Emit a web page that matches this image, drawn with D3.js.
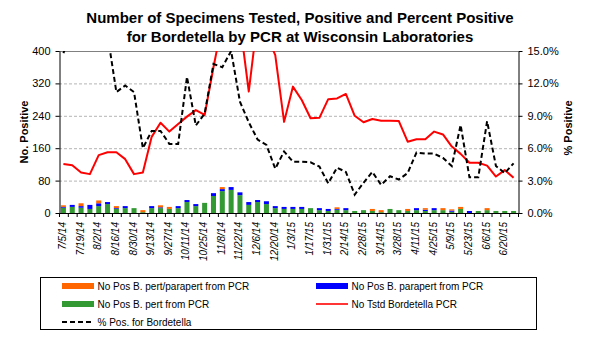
<!DOCTYPE html>
<html>
<head>
<meta charset="utf-8">
<script src="https://cdn.jsdelivr.net/npm/d3@7"></script>
<style>
  body { margin: 0; background: #fff; }
  svg { display: block; }
  text { font-family: "Liberation Sans", Arial, sans-serif; fill: #000; }
</style>
</head>
<body>
<svg id="chart" width="590" height="343"></svg>
<script>
// Weekly reporting periods (week ending)
const weeks = [
  "7/5/14","7/12/14","7/19/14","7/26/14","8/2/14","8/9/14","8/16/14","8/23/14","8/30/14",
  "9/6/14","9/13/14","9/20/14","9/27/14","10/4/14","10/11/14","10/18/14","10/25/14",
  "11/1/14","11/8/14","11/15/14","11/22/14","11/29/14","12/6/14","12/13/14","12/20/14",
  "12/27/14","1/3/15","1/10/15","1/17/15","1/24/15","1/31/15","2/7/15","2/14/15",
  "2/21/15","2/28/15","3/7/15","3/14/15","3/21/15","3/28/15","4/4/15","4/11/15",
  "4/18/15","4/25/15","5/2/15","5/9/15","5/16/15","5/23/15","5/30/15","6/6/15",
  "6/13/15","6/20/15","6/27/15"
];

// Number positive, B. pertussis
const posPert = [13,15,13,10,17,22,10,12,12,2,12,12,10,12,27,17,25,42,54,57,44,20,27,22,12,10,
                 10,10,12,7,5,8,7,5,7,5,2,10,7,5,7,5,7,7,3,10,0,5,7,5,5,5];
// Number positive, B. parapertussis
const posParapert = [2,5,4,10,7,5,2,5,0,0,5,2,0,5,5,5,0,7,5,7,7,7,5,7,5,5,
                     5,5,0,5,5,2,5,0,0,0,0,0,0,0,5,3,5,0,3,0,5,0,0,0,0,0];
// Number positive, B. pertussis/parapertussis
const posBoth = [4,0,7,0,7,0,5,0,0,5,0,5,5,0,0,0,0,0,5,0,0,0,0,0,0,0,
                 0,0,0,0,0,4,0,0,0,5,5,0,0,5,0,4,0,5,3,5,0,0,5,0,0,0];
// Number of specimens tested
const tested = [121,118,100,96,143,150,150,133,96,100,188,223,201,220,238,254,242,360,470,430,
                470,300,480,440,390,225,312,279,234,235,281,283,294,240,224,232,228,228,227,176,
                182,182,201,194,164,146,124,124,117,90,106,87];
// Percent positive
const pctPos = [14.8,17.0,25.0,21.0,21.5,16.5,11.2,11.8,11.2,6.0,7.6,7.6,6.4,6.4,12.6,8.1,9.2,
                13.8,13.5,15.0,10.3,8.4,6.8,6.3,4.1,5.7,4.75,4.75,4.7,4.3,2.75,4.2,3.8,1.7,2.8,
                3.8,2.6,3.4,3.1,3.7,5.6,5.5,5.5,5.1,4.35,8.15,3.3,3.3,8.5,4.35,3.7,4.6];

const countTicks = [0, 80, 160, 240, 320, 400];
const pctTicks = [0, 3, 6, 9, 12, 15];

const titleLines = [
  "Number of Specimens Tested, Positive and Percent Positive",
  "for Bordetella by PCR at Wisconsin Laboratories"
];

const colors = { both: "#FF6600", parapert: "#0000FF", pert: "#339933", tested: "#FF0000", pct: "#000000" };

const plot = { left: 59, right: 518, top: 51, bottom: 213 };

const svg = d3.select("#chart");

const x = d3.scaleBand().domain(weeks).range([plot.left, plot.right]).padding(0);
const barW = x.bandwidth() * 0.57;
const cx = d => x(d) + x.bandwidth() / 2;
const yL = d3.scaleLinear().domain([0, 400]).range([plot.bottom, plot.top]);
const yR = d3.scaleLinear().domain([0, 15]).range([plot.bottom, plot.top]);

// Title
svg.append("g").selectAll("text").data(titleLines).join("text")
  .attr("x", 300).attr("y", (d, i) => 23 + i * 19)
  .attr("text-anchor", "middle")
  .style("font-size", "15px").style("font-weight", "bold")
  .text(d => d);

// Gridlines
svg.append("g").selectAll("line").data(countTicks.filter(t => t > 0)).join("line")
  .attr("x1", plot.left).attr("x2", plot.right)
  .attr("y1", d => yL(d) + 0.5).attr("y2", d => yL(d) + 0.5)
  .attr("stroke", d => d === 400 ? "#808080" : "#b4b4b4")
  .attr("stroke-dasharray", d => d === 400 ? null : "3,2");

// Stacked bars
const rows = weeks.map((w, i) => ({ week: w, pert: posPert[i], parapert: posParapert[i], both: posBoth[i] }));
const stack = d3.stack().keys(["pert", "parapert", "both"])(rows);
svg.append("g").selectAll("g").data(stack).join("g")
  .attr("fill", s => colors[s.key])
  .selectAll("rect").data(s => s).join("rect")
  .attr("x", d => cx(d.data.week) - barW / 2)
  .attr("width", barW)
  .attr("y", d => yL(d[1]))
  .attr("height", d => yL(d[0]) - yL(d[1]));

// Lines, clipped to the plot area
svg.append("clipPath").attr("id", "plotClip")
  .append("rect").attr("x", plot.left).attr("y", plot.top)
  .attr("width", plot.right - plot.left).attr("height", plot.bottom - plot.top + 2);

const linesG = svg.append("g").attr("clip-path", "url(#plotClip)");
linesG.append("path")
  .datum(weeks.map((w, i) => [w, tested[i]]))
  .attr("fill", "none").attr("stroke", colors.tested).attr("stroke-width", 2)
  .attr("stroke-linejoin", "round")
  .attr("d", d3.line().x(d => cx(d[0])).y(d => yL(d[1])));
linesG.append("path")
  .datum(weeks.map((w, i) => [w, pctPos[i]]))
  .attr("fill", "none").attr("stroke", colors.pct).attr("stroke-width", 2)
  .attr("stroke-dasharray", "5,3")
  .attr("d", d3.line().x(d => cx(d[0])).y(d => yR(d[1])));

// Left axis
const axL = svg.append("g").attr("transform", `translate(${plot.left + 0.5},0)`)
  .call(d3.axisLeft(yL).tickValues(countTicks).tickSize(4).tickSizeOuter(0).tickPadding(5));
axL.selectAll("text").style("font-size", "11px").style("font-family", '"Liberation Sans", Arial, sans-serif');

// Right axis
const axR = svg.append("g").attr("transform", `translate(${plot.right + 0.5},0)`)
  .call(d3.axisRight(yR).tickValues(pctTicks).tickSize(4).tickSizeOuter(0).tickPadding(5)
    .tickFormat(d => d.toFixed(1) + "%"));
axR.selectAll("text").style("font-size", "11px").style("font-family", '"Liberation Sans", Arial, sans-serif');

[axL, axR].forEach(a => { a.selectAll("path, line").attr("stroke", "#000"); });

// Bottom axis line with ticks at week boundaries
const xg = svg.append("g");
xg.append("line").attr("x1", plot.left).attr("x2", plot.right + 1)
  .attr("y1", plot.bottom + 0.5).attr("y2", plot.bottom + 0.5).attr("stroke", "#000");
xg.selectAll("line.tick").data(weeks.concat([null])).join("line").attr("class", "tick")
  .attr("x1", d => (d === null ? plot.right : x(d)) + 0.5)
  .attr("x2", d => (d === null ? plot.right : x(d)) + 0.5)
  .attr("y1", plot.bottom).attr("y2", plot.bottom + 4).attr("stroke", "#000");
xg.selectAll("text").data(weeks.filter((w, i) => i % 2 === 0)).join("text")
  .attr("transform", d => `translate(${cx(d) - 1},222) rotate(-90)`)
  .attr("text-anchor", "end").attr("dy", "0.35em")
  .style("font-size", "10px").style("font-style", "italic")
  .text(d => d);

// Axis titles
svg.append("text").attr("transform", `translate(24,${(plot.top + plot.bottom) / 2}) rotate(-90)`)
  .attr("text-anchor", "middle").attr("dy", "0.35em")
  .style("font-size", "11px").style("font-weight", "bold").text("No. Positive");
svg.append("text").attr("transform", `translate(568,${(plot.top + plot.bottom) / 2 - 4}) rotate(-90)`)
  .attr("text-anchor", "middle").attr("dy", "0.35em")
  .style("font-size", "11px").style("font-weight", "bold").text("% Positive");

// Legend
const legend = svg.append("g");
legend.append("rect").attr("x", 40.5).attr("y", 277.5).attr("width", 496).attr("height", 52)
  .attr("fill", "none").attr("stroke", "#000");
const legendItems = [
  { label: "No Pos B. pert/parapert from PCR", type: "bar", color: colors.both, col: 0, row: 0 },
  { label: "No Pos B. parapert from PCR", type: "bar", color: colors.parapert, col: 1, row: 0 },
  { label: "No Pos B. pert from PCR", type: "bar", color: colors.pert, col: 0, row: 1 },
  { label: "No Tstd Bordetella PCR", type: "line", color: colors.tested, col: 1, row: 1 },
  { label: "% Pos. for Bordetella", type: "dash", color: colors.pct, col: 0, row: 2 }
];
const li = legend.selectAll("g.item").data(legendItems).join("g").attr("class", "item")
  .attr("transform", d => `translate(${d.col === 0 ? 62 : 316},${286 + d.row * 18})`);
li.filter(d => d.type === "bar").append("rect")
  .attr("x", 0).attr("y", -3).attr("width", 32).attr("height", 6).attr("fill", d => d.color);
li.filter(d => d.type !== "bar").append("line")
  .attr("x1", 0).attr("x2", 32).attr("y1", 0).attr("y2", 0)
  .attr("stroke", d => d.color).attr("stroke-width", d => d.type === "dash" ? 2 : 1.6)
  .attr("stroke-dasharray", d => d.type === "dash" ? "5,3" : null);
li.append("text").attr("x", 35.5).attr("y", 0).attr("dy", "0.35em")
  .style("font-size", "10px").text(d => d.label);
</script>
</body>
</html>
